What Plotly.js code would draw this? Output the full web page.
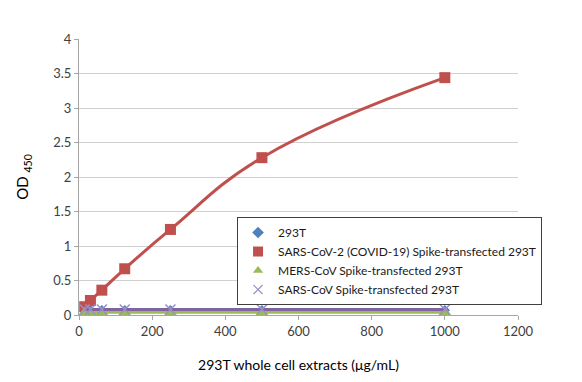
<!DOCTYPE html>
<html>
<head>
<meta charset="utf-8">
<script src="https://cdn.plot.ly/plotly-3.0.1.min.js"></script>
<style>html,body{margin:0;padding:0;background:#fff;}#chart{width:582px;height:382px;}</style>
</head>
<body>
<div id="chart"></div>
<script>
const concentrations = [15.625, 31.25, 62.5, 125, 250, 500, 1000];
const seriesNames = [
  "293T",
  "SARS-CoV-2 (COVID-19) Spike-transfected 293T",
  "MERS-CoV Spike-transfected 293T",
  "SARS-CoV Spike-transfected 293T"
];
const od293T = [0.07, 0.07, 0.07, 0.07, 0.07, 0.07, 0.07];
const odSarsCov2 = [0.12, 0.21, 0.36, 0.67, 1.24, 2.28, 3.44];
const odMers = [0.04, 0.04, 0.04, 0.04, 0.04, 0.04, 0.04];
const odSarsCov = [0.08, 0.08, 0.08, 0.08, 0.08, 0.08, 0.08];
const xTicks = [0, 200, 400, 600, 800, 1000, 1200];
const yTicks = [0, 0.5, 1, 1.5, 2, 2.5, 3, 3.5, 4];

const colors = ["#4F81BD", "#C0504D", "#9BBB59", "#8064A2"];
const symbols = ["diamond", "square", "triangle-up", "x-thin-open"];
const markerSizes = [8, 11, 11, 10];
const markerColors = ["#4F81BD", "#C0504D", "#9BBB59", "#9C8DC8"];
const values = [od293T, odSarsCov2, odMers, odSarsCov];

const traces = [];
values.forEach((v, i) => {
  traces.push({
    x: concentrations, y: v, type: "scatter", mode: "lines+markers",
    line: {color: colors[i], width: 3, shape: "spline", smoothing: 1.25},
    marker: {symbol: symbols[i], size: markerSizes[i], color: markerColors[i],
             line: {color: markerColors[i], width: i === 3 ? 1.5 : 0}},
    showlegend: false, hoverinfo: "skip", cliponaxis: false
  });
});
values.forEach((v, i) => {
  traces.push({
    x: [null], y: [null], type: "scatter", mode: "markers", name: seriesNames[i],
    marker: {symbol: symbols[i], size: i === 1 ? 10 : 9, color: markerColors[i],
             line: {color: markerColors[i], width: i === 3 ? 1.2 : 0}},
    showlegend: true
  });
});

const layout = {
  width: 582, height: 382,
  margin: {l: 79, r: 64, t: 39, b: 67},
  paper_bgcolor: "#fff", plot_bgcolor: "#fff",
  font: {family: "Lato, 'Open Sans', sans-serif", color: "#404040", size: 13},
  showlegend: true,
  legend: {
    x: 0.36, y: 0.355, xanchor: "left", yanchor: "top",
    bordercolor: "#404040", borderwidth: 1, bgcolor: "#fff",
    font: {size: 12, color: "#1a1a1a"}, tracegroupgap: 0, itemwidth: 30
  },
  xaxis: {
    range: [0, 1200], tickvals: xTicks, ticktext: xTicks.map(String),
    showgrid: false, zeroline: false, showline: true, linecolor: "#A6A6A6", linewidth: 1,
    ticks: "outside", ticklen: 4, tickcolor: "#A6A6A6",
    tickfont: {size: 13, color: "#404040"},
    title: {text: "293T whole cell extracts (μg/mL)", font: {size: 14, color: "#000"}, standoff: 22}
  },
  yaxis: {
    range: [0, 4], tickvals: yTicks, ticktext: yTicks.map(String),
    showgrid: true, gridcolor: "#D0D0D0", gridwidth: 1, zeroline: false,
    showline: true, linecolor: "#A6A6A6", linewidth: 1,
    ticks: "outside", ticklen: 4, tickcolor: "#A6A6A6",
    tickfont: {size: 13, color: "#404040"},
    title: {text: "OD <sub>450</sub>", font: {size: 15, color: "#000"}, standoff: 20}
  }
};

Plotly.newPlot("chart", traces, layout, {staticPlot: true, displayModeBar: false});
</script>
</body>
</html>
